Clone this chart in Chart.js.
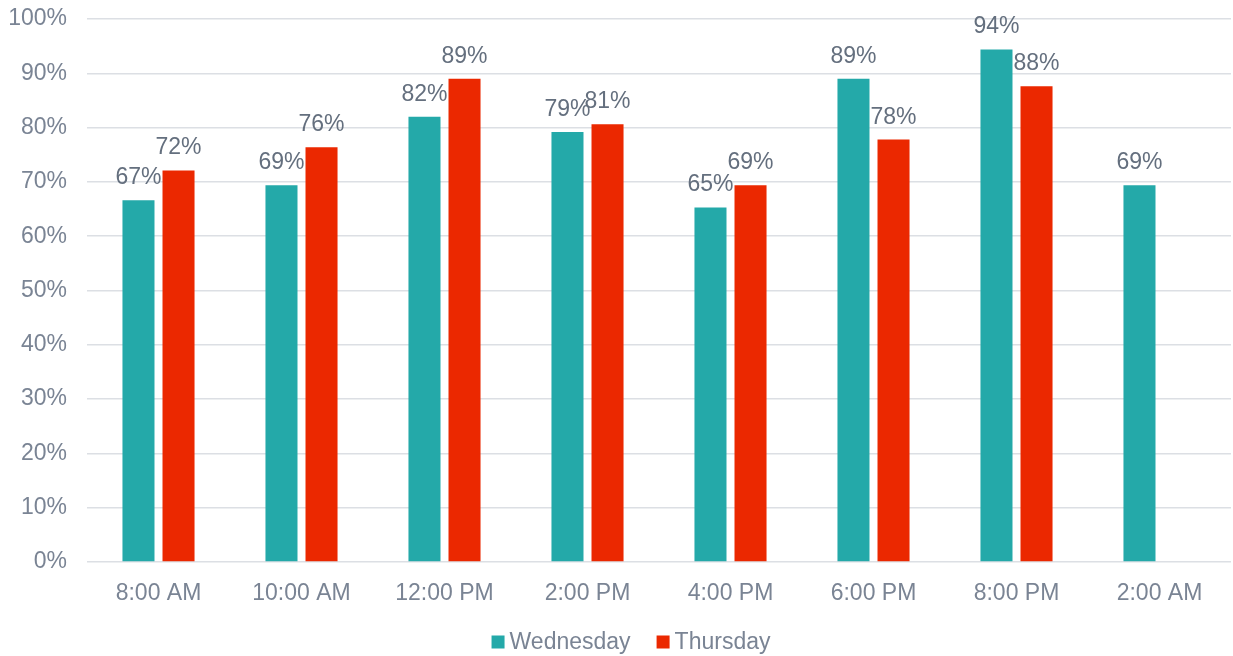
<!DOCTYPE html>
<html>
<head>
<meta charset="utf-8">
<script src="https://cdn.jsdelivr.net/npm/chart.js@4.4.1/dist/chart.umd.min.js"></script>
<style>
    html, body { margin: 0; padding: 0; background: #fff; }
    #wrap { width: 1233px; height: 656px; position: relative; }
</style>
</head>
<body>
<div id="wrap"><canvas id="barChart"></canvas></div>
<script>
// Time slots and the two daily series (percent)
const timeSlots = ['8:00 AM', '10:00 AM', '12:00 PM', '2:00 PM', '4:00 PM', '6:00 PM', '8:00 PM', '2:00 AM'];
const wednesday = [66.6, 69.4, 82.0, 79.2, 65.3, 89.0, 94.4, 69.4];
const thursday = [72.1, 76.4, 89.0, 80.6, 69.4, 77.8, 87.6, null];
const yTicks = [0, 10, 20, 30, 40, 50, 60, 70, 80, 90, 100];

const fontFamily = '"Liberation Sans", Arial, sans-serif';
const textGray = '#7A8494';
const labelGray = '#646F7E';

// Draw value labels above each bar
const barLabels = {
    id: 'barLabels',
    afterDatasetsDraw(chart) {
        const ctx = chart.ctx;
        ctx.save();
        ctx.font = '23px ' + fontFamily;
        ctx.fillStyle = labelGray;
        ctx.textAlign = 'center';
        ctx.textBaseline = 'alphabetic';
        chart.data.datasets.forEach((ds, i) => {
            chart.getDatasetMeta(i).data.forEach((bar, j) => {
                const v = ds.data[j];
                if (v == null) return;
                ctx.fillText(Math.round(v) + '%', bar.x, bar.y - 16);
            });
        });
        ctx.restore();
    }
};

// Compact legend at the bottom (box close to its text, like the original)
const bottomLegend = {
    id: 'bottomLegend',
    afterDraw(chart) {
        const ctx = chart.ctx;
        const box = 13, gap = 5, itemGap = 26;
        const y = 642, centerX = 631;
        ctx.save();
        ctx.font = '23px ' + fontFamily;
        ctx.textBaseline = 'middle';
        ctx.textAlign = 'left';
        const items = chart.data.datasets.map(ds => ({
            text: ds.label,
            color: ds.backgroundColor,
            w: box + gap + ctx.measureText(ds.label).width
        }));
        const total = items.reduce((s, it) => s + it.w, 0) + itemGap * (items.length - 1);
        let x = centerX - total / 2;
        items.forEach(it => {
            ctx.fillStyle = it.color;
            ctx.fillRect(x, y - box / 2, box, box);
            ctx.fillStyle = textGray;
            ctx.fillText(it.text, x + box + gap, y + 1);
            x += it.w + itemGap;
        });
        ctx.restore();
    }
};

document.addEventListener('DOMContentLoaded', () => {
    const ctx = document.getElementById('barChart').getContext('2d');
    new Chart(ctx, {
        type: 'bar',
        data: {
            labels: timeSlots,
            datasets: [{
                label: 'Wednesday',
                data: wednesday,
                backgroundColor: '#24A9A9',
                borderWidth: 0,
                categoryPercentage: 0.56,
                barPercentage: 0.8
            }, {
                label: 'Thursday',
                data: thursday,
                backgroundColor: '#EB2800',
                borderWidth: 0,
                categoryPercentage: 0.56,
                barPercentage: 0.8
            }]
        },
        options: {
            responsive: true,
            maintainAspectRatio: false,
            animation: false,
            layout: { padding: { top: 19, right: 2, left: 0, bottom: 44 } },
            plugins: {
                legend: { display: false },
                tooltip: { enabled: false }
            },
            scales: {
                x: {
                    grid: { display: false },
                    border: { display: false },
                    afterFit: axis => { axis.height = 50; },
                    ticks: {
                        color: textGray,
                        font: { family: fontFamily, size: 23 },
                        padding: 10
                    }
                },
                y: {
                    min: 0,
                    max: 100,
                    afterBuildTicks: axis => { axis.ticks = yTicks.map(v => ({ value: v })); },
                    afterFit: axis => {
                        axis.width = 87;
                        axis.paddingTop = 0;
                        axis.paddingBottom = 0;
                    },
                    grid: { color: '#DCDFE4', lineWidth: 1.5, drawTicks: false },
                    border: { display: false },
                    ticks: {
                        color: textGray,
                        font: { family: fontFamily, size: 23 },
                        padding: 20,
                        callback: v => v + '%'
                    }
                }
            }
        },
        plugins: [barLabels, bottomLegend]
    });
});
</script>
</body>
</html>
